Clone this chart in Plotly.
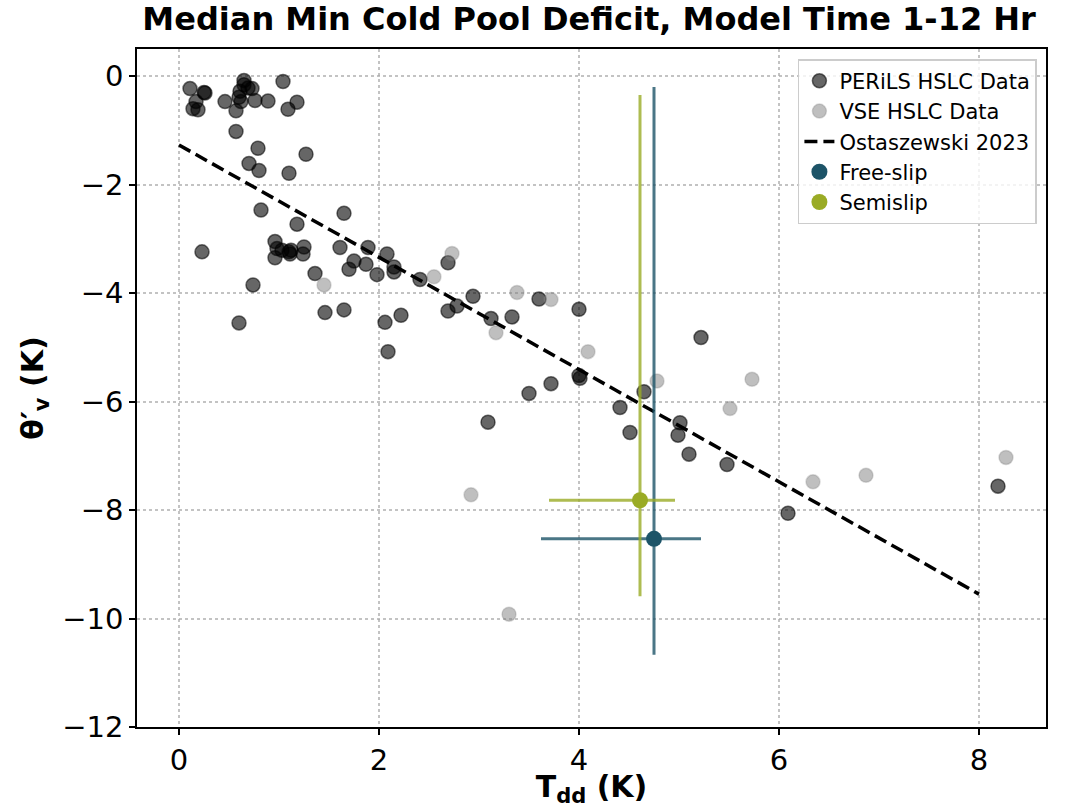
import plotly.graph_objects as go

# PERiLS HSLC observations (T_dd, theta_v')
perils_tdd = [0.11, 0.25, 0.26, 0.17, 0.14, 0.19, 0.46, 0.57, 0.65, 0.65, 0.61, 0.60, 0.62,
              0.73, 0.69, 0.76, 0.89, 1.04, 1.09, 1.18, 0.57, 0.79, 1.27, 0.70, 0.80, 1.10,
              0.82, 1.65, 1.18, 0.23, 0.96, 0.98, 0.96, 1.03, 1.10, 1.12, 1.11, 1.25, 1.24,
              1.36, 1.61, 1.75, 1.70, 1.87, 1.89, 1.98, 2.08, 2.15, 2.15, 0.74, 1.46, 1.65,
              0.60, 2.06, 2.22, 2.09, 2.69, 2.41, 2.94, 2.78, 2.69, 3.12, 3.33, 3.60, 4.00,
              4.00, 4.01, 3.72, 3.50, 3.09, 4.65, 4.41, 5.22, 4.51, 5.01, 4.99, 5.10, 5.48,
              6.09, 8.19]
perils_theta = [-0.23, -0.30, -0.31, -0.47, -0.60, -0.62, -0.47, -0.64, -0.08, -0.16, -0.28,
                -0.39, -0.47, -0.23, -0.22, -0.45, -0.46, -0.10, -0.61, -0.48, -1.02, -1.33,
                -1.44, -1.61, -1.74, -1.79, -2.47, -2.53, -2.73, -3.24, -3.05, -3.18, -3.35,
                -3.21, -3.24, -3.21, -3.28, -3.15, -3.28, -3.64, -3.16, -3.41, -3.56, -3.47,
                -3.16, -3.66, -3.28, -3.52, -3.61, -3.85, -4.36, -4.31, -4.55, -4.54, -4.41,
                -5.08, -3.44, -3.75, -4.06, -4.24, -4.33, -4.47, -4.44, -4.11, -4.30, -5.52,
                -5.57, -5.67, -5.85, -6.38, -5.82, -6.11, -4.82, -6.57, -6.39, -6.62, -6.97,
                -7.16, -8.06, -7.56]

# VSE HSLC observations
vse_tdd = [1.45, 2.73, 2.55, 3.17, 3.38, 3.72, 4.09, 4.78, 5.73, 5.51, 6.34, 6.87, 8.27,
           2.92, 3.30]
vse_theta = [-3.85, -3.27, -3.70, -4.73, -3.99, -4.12, -5.08, -5.62, -5.59, -6.13, -7.48,
             -7.36, -7.03, -7.72, -9.92]

# Ostaszewski (2023) fit line
fit_tdd = [0.0, 8.0]
fit_theta = [-1.27, -9.55]

# Simulation medians with spread
free_tdd = [4.75]
free_theta = [-8.53]
free_x_lo, free_x_hi = [1.13], [0.47]
free_y_lo, free_y_hi = [2.14], [8.33]

semi_tdd = [4.61]
semi_theta = [-7.82]
semi_x_lo, semi_x_hi = [0.91], [0.35]
semi_y_lo, semi_y_hi = [1.77], [7.47]

font = "DejaVu Sans"
fig = go.Figure()

fig.add_trace(go.Scatter(
    x=perils_tdd, y=perils_theta, mode="markers", name="PERiLS HSLC Data",
    marker=dict(size=14, color="rgba(0,0,0,0.6)",
                line=dict(color="rgba(0,0,0,0.55)", width=1.5))))
fig.add_trace(go.Scatter(
    x=vse_tdd, y=vse_theta, mode="markers", name="VSE HSLC Data",
    marker=dict(size=14, color="rgba(128,128,128,0.5)",
                line=dict(color="rgba(128,128,128,0.3)", width=1.5))))
fig.add_trace(go.Scatter(
    x=fit_tdd, y=fit_theta, mode="lines", name="Ostaszewski 2023",
    line=dict(color="black", width=3.5, dash="13px,6px")))
fig.add_trace(go.Scatter(
    x=free_tdd, y=free_theta, mode="markers", name="Free-slip",
    marker=dict(size=16, color="#1d5468"),
    error_x=dict(type="data", symmetric=False, array=free_x_hi, arrayminus=free_x_lo,
                 color="rgba(29,84,104,0.8)", thickness=3, width=0),
    error_y=dict(type="data", symmetric=False, array=free_y_hi, arrayminus=free_y_lo,
                 color="rgba(29,84,104,0.8)", thickness=3, width=0)))
fig.add_trace(go.Scatter(
    x=semi_tdd, y=semi_theta, mode="markers", name="Semislip",
    marker=dict(size=16, color="#9aab25"),
    error_x=dict(type="data", symmetric=False, array=semi_x_hi, arrayminus=semi_x_lo,
                 color="rgba(154,171,37,0.8)", thickness=3, width=0),
    error_y=dict(type="data", symmetric=False, array=semi_y_hi, arrayminus=semi_y_lo,
                 color="rgba(154,171,37,0.8)", thickness=3, width=0)))

axis_common = dict(
    showline=True, linecolor="black", linewidth=1.5, mirror=True,
    ticks="outside", ticklen=6, tickwidth=1.5, tickcolor="black",
    showgrid=True, gridcolor="rgba(170,170,170,0.7)", griddash="dot", gridwidth=1.5,
    zeroline=False, automargin=False,
    tickfont=dict(family=font, size=29, color="black"),
)

fig.update_layout(
    width=1078, height=808,
    margin=dict(l=137, r=32, t=49, b=81),
    paper_bgcolor="white", plot_bgcolor="white",
    title=dict(text="<b>Median Min Cold Pool Deficit, Model Time 1-12 Hr</b>",
               x=0.5465, xanchor="center", y=0.99, yanchor="top",
               font=dict(family=font, size=32, color="black")),
    xaxis=dict(range=[-0.42, 8.67], tickvals=[0, 2, 4, 6, 8],
               title=dict(text="<b>T<sub>dd</sub> (K)</b>", standoff=4,
                          font=dict(family=font, size=30, color="black")),
               **axis_common),
    yaxis=dict(range=[-12, 0.5], tickvals=[0, -2, -4, -6, -8, -10, -12],
               ticktext=["0", "−2", "−4", "−6", "−8", "−10", "−12"],
               title=dict(text="<b>θ′<sub>v</sub> (K)</b>", standoff=10,
                          font=dict(family=font, size=30, color="black")),
               **axis_common),
    legend=dict(x=0.99, y=0.985, xanchor="right", yanchor="top",
                bgcolor="rgba(255,255,255,0.8)", bordercolor="#cccccc", borderwidth=1.5,
                font=dict(family=font, size=21, color="black"),
                itemsizing="trace"),
    showlegend=True,
)

fig.write_html("out.html")
